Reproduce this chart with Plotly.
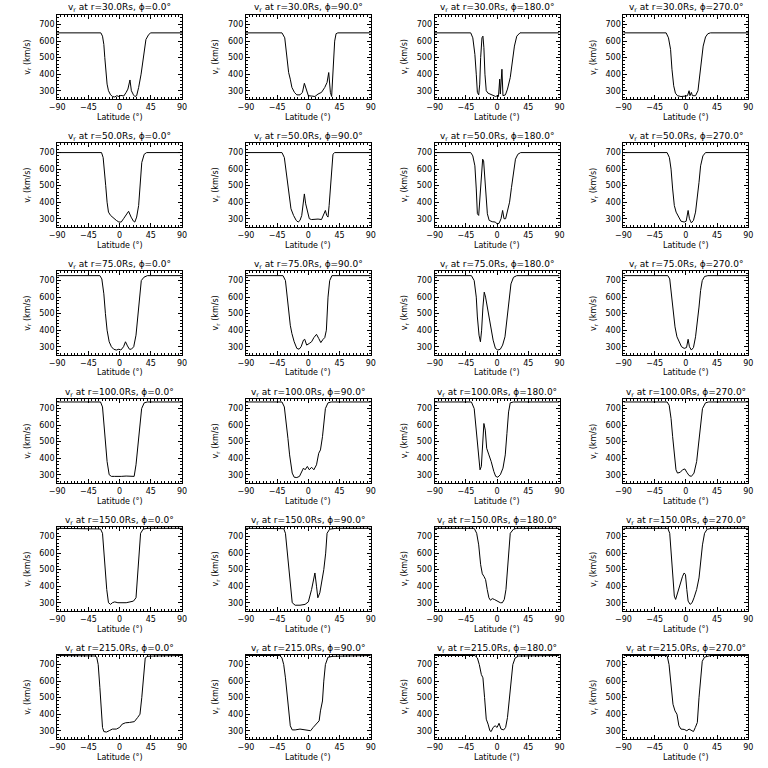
import plotly.graph_objects as go

# ---------------- data ----------------
radii = [30.0, 50.0, 75.0, 100.0, 150.0, 215.0]
phis = [0.0, 90.0, 180.0, 270.0]
x_ticks = [-90, -45, 0, 45, 90]
y_ticks = [300, 400, 500, 600, 700]

lat_r30_p0 = [-90, -27, -24.6, -22.7, -21.3, -19.9, -18, -16, -13, -10, -7, -4, -1, 2, 6, 9.5, 12, 15, 17, 20, 22, 24.6, 27.5, 31, 33, 35.5, 38, 42, 45, 90]
vr_r30_p0 = [650, 650, 630, 580, 500, 420, 340, 300, 275, 265, 262, 270, 265, 272, 268, 290, 310, 365, 300, 275, 265, 270, 320, 400, 470, 560, 610, 640, 650, 650]
lat_r30_p90 = [-90, -38, -34, -31, -28.4, -26, -23.7, -20, -16.6, -12, -8.5, -5.7, -3.3, 0, 4.7, 9.5, 14, 19, 23.7, 27, 29.4, 31.8, 33.6, 35.5, 38, 40, 42.6, 90]
vr_r30_p90 = [650, 650, 620, 520, 410, 370, 320, 290, 275, 275, 290, 345, 310, 270, 268, 265, 280, 290, 320, 350, 410, 290, 265, 400, 600, 645, 650, 650]
lat_r30_p180 = [-90, -38, -35, -32, -30, -28.4, -26.5, -25, -23.7, -21.8, -20.4, -19, -17.5, -15.6, -13, -9.5, -4.7, -2, 0, 2, 3.8, 4.7, 7, 8.5, 12, 15, 19, 22, 25, 28.4, 33, 90]
vr_r30_p180 = [650, 650, 620, 520, 400, 290, 275, 340, 500, 620, 630, 560, 400, 300, 285, 278, 270, 265, 270, 265, 370, 280, 430, 270, 275, 310, 380, 470, 570, 630, 650, 650]
lat_r30_p270 = [-90, -28.4, -25, -22, -20, -17.5, -15, -12, -7, -3.3, 0, 2.4, 4.7, 6, 8, 9.5, 14, 17.5, 20, 22, 25, 28.4, 31.8, 35.5, 90]
vr_r30_p270 = [650, 650, 620, 550, 430, 330, 285, 270, 265, 265, 268, 270, 300, 270, 290, 270, 270, 300, 380, 460, 570, 625, 645, 650, 650]

lat_r50_p0 = [-90, -26, -23.7, -21.8, -20, -18, -16, -13, -9.5, -4.7, -1, 2.4, 5.7, 9.5, 13, 16.6, 20, 22, 24.6, 27.5, 30, 32, 35.5, 39, 90]
vr_r50_p0 = [700, 700, 670, 600, 500, 400, 340, 320, 305, 290, 280, 280, 300, 325, 345, 310, 285, 280, 310, 380, 500, 640, 690, 700, 700]
lat_r50_p90 = [-90, -38, -34.6, -31.8, -30, -27.5, -25, -21.3, -17.5, -14.7, -12, -9.5, -7, -5.7, -3.8, -1.4, 1.4, 4.7, 9.5, 14, 19, 22, 24.6, 26.5, 28.4, 30, 31.8, 33.6, 35.5, 38, 90]
vr_r50_p90 = [700, 700, 670, 580, 500, 410, 360, 320, 290, 280, 290, 320, 420, 450, 390, 340, 300, 295, 298, 298, 295, 320, 350, 320, 310, 380, 500, 620, 690, 700, 700]
lat_r50_p180 = [-90, -38, -35, -32, -30, -28.4, -26.5, -24.6, -22.7, -20.8, -19.4, -18, -16, -14, -11.4, -7, -2.8, 0, 2.8, 5.7, 8, 10, 12.3, 15, 18, 20.8, 23.7, 26.5, 30, 34, 90]
vr_r50_p180 = [700, 700, 680, 620, 480, 330, 320, 420, 570, 660, 650, 560, 420, 330, 290, 282, 280, 270, 272, 300, 350, 300, 300, 340, 400, 490, 580, 660, 690, 700, 700]
lat_r50_p270 = [-90, -27, -23.7, -21.3, -19, -16.6, -14, -10.4, -7, -2.4, 0.5, 3.3, 5.2, 8, 11, 14, 16.6, 19, 21.3, 24.6, 28.4, 90]
vr_r50_p270 = [700, 700, 670, 600, 480, 380, 340, 310, 285, 280, 285, 350, 300, 275, 290, 340, 420, 520, 620, 680, 700, 700]

lat_r75_p0 = [-90, -28.4, -25.6, -22.7, -20.4, -18, -15, -11.8, -8.5, -4.7, -1, 1.9, 5.7, 8.5, 11.4, 14.2, 17, 20.4, 23.7, 26.5, 29.4, 31.3, 35, 40, 90]
vr_r75_p0 = [730, 730, 710, 620, 500, 400, 330, 300, 285, 280, 285, 280, 300, 330, 305, 285, 285, 300, 370, 480, 620, 700, 720, 730, 730]
lat_r75_p90 = [-90, -36.5, -33, -30.8, -28.4, -26, -23.7, -20.4, -16.6, -13.3, -10.4, -7, -5.2, -2.4, 1.4, 4.7, 8, 11.8, 15, 18, 21.3, 23.7, 26, 28.4, 30.8, 34, 90]
vr_r75_p90 = [730, 730, 700, 600, 500, 430, 380, 330, 290, 285, 300, 340, 345, 310, 320, 330, 355, 375, 350, 325, 345, 355, 400, 600, 700, 730, 730]
lat_r75_p180 = [-90, -37, -33, -30, -28.4, -26, -24, -22.3, -20.4, -18.5, -16.6, -14.2, -11.4, -8.5, -5.7, -2.4, 1, 4.7, 8, 11.4, 14.2, 17, 20, 23.7, 28.4, 90]
vr_r75_p180 = [730, 730, 700, 600, 480, 370, 330, 400, 540, 630, 600, 540, 480, 410, 340, 290, 280, 285, 310, 360, 460, 580, 680, 720, 730, 730]
lat_r75_p270 = [-90, -26, -23.2, -20.4, -18, -15.6, -12.8, -9.5, -6.2, -2.4, 1, 3.3, 5.2, 8, 11, 14, 16.6, 19, 21.3, 23.7, 27, 31.8, 90]
vr_r75_p270 = [730, 730, 710, 600, 500, 420, 360, 330, 300, 290, 295, 345, 300, 280, 295, 360, 440, 540, 640, 700, 725, 730, 730]

lat_r100_p0 = [-90, -27.5, -24.6, -22.7, -20.4, -18, -15, -11.8, -7, -2.4, 2.4, 9.5, 16.6, 21, 23.7, 26.5, 29.4, 31.8, 35.5, 40, 90]
vr_r100_p0 = [740, 740, 710, 620, 500, 380, 300, 290, 290, 288, 290, 292, 288, 290, 360, 480, 600, 700, 735, 740, 740]
lat_r100_p90 = [-90, -38, -34.6, -31.8, -29.4, -27, -25, -23.2, -20.4, -16.6, -12.8, -9.5, -7, -4.7, -1.4, 1.4, 4.7, 8, 11.8, 15, 17.5, 20.4, 22.3, 24.6, 28.4, 33, 90]
vr_r100_p90 = [740, 740, 710, 620, 520, 420, 350, 310, 285, 283, 290, 320, 340, 330, 350, 330, 345, 330, 360, 430, 450, 530, 600, 700, 735, 740, 740]
lat_r100_p180 = [-90, -37, -33, -30.8, -28.4, -26.5, -24.6, -22.7, -20.8, -19, -17, -15, -11.8, -8.5, -4.7, -2, 1, 4.7, 8.5, 11.8, 14.2, 16.6, 19, 23.7, 90]
vr_r100_p180 = [740, 740, 700, 600, 480, 380, 330, 350, 500, 610, 570, 460, 420, 380, 320, 290, 285, 300, 340, 420, 550, 680, 735, 740, 740]
lat_r100_p270 = [-90, -27, -24, -21.3, -19, -16.6, -14.2, -12, -8, -4.7, -1.4, 1.4, 4.7, 8, 11.8, 15.6, 19, 21.3, 24, 28.4, 33, 90]
vr_r100_p270 = [740, 740, 720, 640, 530, 420, 330, 310, 315, 330, 335, 315, 295, 290, 310, 380, 500, 620, 700, 735, 740, 740]

lat_r150_p0 = [-90, -45, -27.5, -24.6, -22.7, -20.4, -18.5, -16, -13, -10.4, -7, -2.4, 2.4, 9.5, 15, 20, 23.7, 26, 28.4, 30.3, 34, 40, 90]
vr_r150_p0 = [750, 746, 746, 720, 620, 460, 380, 300, 290, 300, 305, 300, 300, 300, 305, 310, 330, 450, 620, 720, 745, 750, 750]
lat_r150_p90 = [-90, -35.5, -33, -30.8, -28.4, -26, -23.2, -19, -12, -4.7, 0, 4.7, 8, 9.5, 11.8, 13.7, 16.6, 19, 22.3, 25, 27, 30.8, 40, 90]
vr_r150_p90 = [750, 748, 720, 620, 500, 380, 300, 285, 285, 290, 305, 380, 450, 480, 400, 330, 360, 420, 500, 600, 720, 745, 750, 750]
lat_r150_p180 = [-90, -33, -29.4, -26.5, -23.7, -21.3, -19, -16.6, -14.2, -11.8, -9.5, -7, -4, 0, 4.7, 7.6, 10.4, 12.8, 15, 17, 19, 23.7, 28.4, 90]
vr_r150_p180 = [750, 750, 720, 650, 530, 475, 460, 440, 380, 330, 315, 325, 320, 310, 300, 300, 320, 380, 520, 640, 720, 745, 750, 750]
lat_r150_p270 = [-90, -26, -23.2, -20.4, -18.5, -16.6, -14.7, -12, -9.5, -7, -4.7, -2.4, -0.5, 1.4, 3.3, 6.2, 9, 11.8, 15.6, 19, 21.3, 24, 27, 30.8, 38, 90]
vr_r150_p270 = [750, 750, 720, 580, 450, 340, 320, 360, 400, 430, 460, 480, 470, 380, 310, 290, 300, 330, 380, 450, 550, 650, 720, 745, 750, 750]

lat_r215_p0 = [-90, -40, -35.5, -33, -30.8, -28.4, -26.5, -24.6, -22.7, -19, -15, -10.4, -4.7, 0, 3.8, 8.5, 14.2, 21.3, 26, 29.4, 32, 34.6, 37, 40, 50, 90]
vr_r215_p0 = [755, 752, 752, 745, 700, 560, 420, 320, 295, 292, 300, 310, 310, 320, 340, 348, 350, 355, 380, 400, 500, 650, 740, 750, 752, 755]
lat_r215_p90 = [-90, -41, -38, -35.5, -33, -30.8, -28.4, -26, -23.2, -19, -12, -4.7, 0, 3.3, 7, 11.8, 15.6, 17.5, 20.4, 22.3, 24.6, 28.4, 35.5, 90]
vr_r215_p90 = [755, 755, 740, 700, 620, 520, 420, 330, 305, 305, 310, 305, 298, 300, 320, 340, 360, 420, 480, 600, 700, 745, 750, 755]
lat_r215_p180 = [-90, -32, -28.4, -25.6, -22.7, -20.4, -18, -15.6, -13, -10.4, -8.5, -5.7, -2.8, 0, 2.8, 5.7, 9.5, 12.3, 15, 18, 20.4, 22.7, 26, 31, 90]
vr_r215_p180 = [755, 755, 740, 700, 640, 620, 500, 370, 340, 300, 295, 320, 330, 320, 345, 310, 305, 320, 380, 500, 620, 700, 740, 752, 755]
lat_r215_p270 = [-90, -27, -24.2, -21.3, -18.5, -15.6, -12.8, -10, -7, -2.4, 1.4, 4.7, 8, 11, 13.7, 16.6, 19, 21.3, 23.7, 27, 35.5, 90]
vr_r215_p270 = [755, 755, 700, 560, 460, 420, 400, 330, 310, 308, 300, 310, 303, 295, 320, 350, 500, 640, 720, 745, 755, 755]

panels = [
    [(lat_r30_p0, vr_r30_p0), (lat_r30_p90, vr_r30_p90), (lat_r30_p180, vr_r30_p180), (lat_r30_p270, vr_r30_p270)],
    [(lat_r50_p0, vr_r50_p0), (lat_r50_p90, vr_r50_p90), (lat_r50_p180, vr_r50_p180), (lat_r50_p270, vr_r50_p270)],
    [(lat_r75_p0, vr_r75_p0), (lat_r75_p90, vr_r75_p90), (lat_r75_p180, vr_r75_p180), (lat_r75_p270, vr_r75_p270)],
    [(lat_r100_p0, vr_r100_p0), (lat_r100_p90, vr_r100_p90), (lat_r100_p180, vr_r100_p180), (lat_r100_p270, vr_r100_p270)],
    [(lat_r150_p0, vr_r150_p0), (lat_r150_p90, vr_r150_p90), (lat_r150_p180, vr_r150_p180), (lat_r150_p270, vr_r150_p270)],
    [(lat_r215_p0, vr_r215_p0), (lat_r215_p90, vr_r215_p90), (lat_r215_p180, vr_r215_p180), (lat_r215_p270, vr_r215_p270)],
]

# ---------------- layout ----------------
W = H = 768
col_left = [50, 242, 434, 626]
row_top = [15, 143, 271, 399, 527, 655]
pw, ph = 127, 84
FONT = "DejaVu Sans"


def px(v):
    return v / W


def py(v):
    return 1 - v / H


fig = go.Figure()
layout = dict(
    width=W, height=H, margin=dict(l=0, r=0, t=0, b=0),
    paper_bgcolor="white", plot_bgcolor="white", showlegend=False,
    font=dict(family=FONT, size=8, color="black"),
)
annotations = []

k = 0
for ri, r in enumerate(radii):
    for ci, phi in enumerate(phis):
        k += 1
        lat, vr = panels[ri][ci]
        xa = "x" if k == 1 else f"x{k}"
        ya = "y" if k == 1 else f"y{k}"
        fig.add_trace(go.Scatter(x=lat, y=vr, mode="lines", xaxis=xa, yaxis=ya,
                                 line=dict(color="black", width=1), hoverinfo="skip"))
        x0, x1 = px(col_left[ci]), px(col_left[ci] + pw)
        y1, y0 = py(row_top[ri]), py(row_top[ri] + ph)
        common = dict(showline=True, linecolor="black", linewidth=1, mirror="ticks",
                      ticks="inside", ticklen=4, tickcolor="black", tickwidth=1,
                      showgrid=False, zeroline=False, tickfont=dict(size=8, family=FONT))
        layout["xaxis" if k == 1 else f"xaxis{k}"] = dict(
            domain=[x0, x1], anchor=ya, range=[-90, 90], tickvals=x_ticks,
            ticktext=[("−" + str(-t)) if t < 0 else str(t) for t in x_ticks],
            minor=dict(ticks="inside", ticklen=2, dtick=5, tickcolor="black", showgrid=False),
            **common)
        layout["yaxis" if k == 1 else f"yaxis{k}"] = dict(
            domain=[y0, y1], anchor=xa, range=[250, 758], tickvals=y_ticks,
            minor=dict(ticks="inside", ticklen=2, dtick=20, tickcolor="black", showgrid=False),
            **common)
        cx = px(col_left[ci] + pw / 2)
        annotations.append(dict(
            text=f"v<sub>r</sub> at r={r:.1f}Rs, ϕ={phi:.1f}°", x=cx, y=py(row_top[ri] - 7),
            xref="paper", yref="paper", xanchor="center", yanchor="middle", showarrow=False,
            borderpad=0, font=dict(size=9, family=FONT)))
        annotations.append(dict(
            text="Latitude (°)", x=cx, y=py(row_top[ri] + ph + 18),
            xref="paper", yref="paper", xanchor="center", yanchor="middle", showarrow=False,
            borderpad=0, font=dict(size=8, family=FONT)))
        annotations.append(dict(
            text="v<sub>r</sub> (km/s)", x=px(col_left[ci] - 30), y=py(row_top[ri] + ph / 2),
            xref="paper", yref="paper", xanchor="center", yanchor="middle", showarrow=False,
            borderpad=0, textangle=-90, font=dict(size=8, family=FONT)))

layout["annotations"] = annotations
fig.update_layout(**layout)
# remove the browser's default 8px body margin so the 768x768 figure fills the window
fig.write_html("out.html",
               config={"displayModeBar": False, "staticPlot": True},
               post_script="document.body.style.margin='0';document.body.style.overflow='hidden';")
